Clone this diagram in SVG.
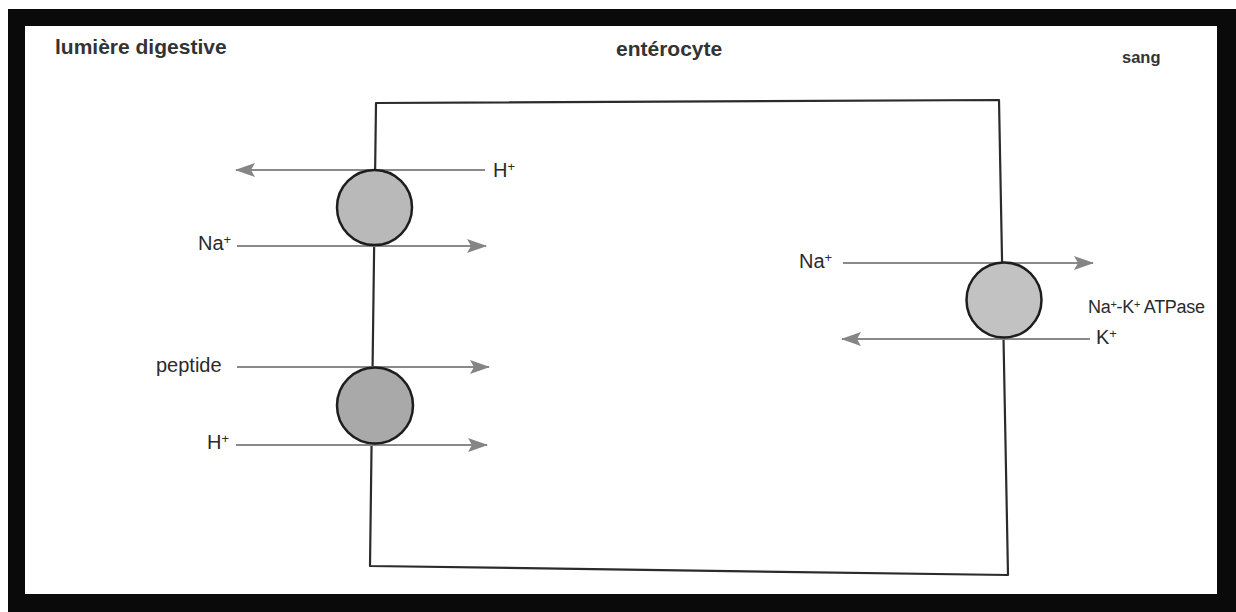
<svg xmlns="http://www.w3.org/2000/svg" width="1236" height="612" viewBox="0 0 1236 612">
  <style>
    .lbl { font-family: "Liberation Sans", Arial, sans-serif; font-size: 20px; fill: #2a2a2a; }
    .title { font-family: "Liberation Sans", Arial, sans-serif; font-size: 21px; font-weight: bold; fill: #333; }
    .sup { font-size: 13px; }
    .small { font-size: 18px; letter-spacing: -0.3px; }
    .small .sup { font-size: 11px; }
    .membrane { fill: none; stroke: #2b2b2b; stroke-width: 2.2; stroke-linejoin: round; }
    .flux { stroke: #8a8a8a; stroke-width: 2; fill: none; marker-end: url(#head); }
    .carrier { stroke: #1e1e1e; stroke-width: 2.5; }
  </style>
  <defs>
    <marker id="head" viewBox="0 0 20 14" refX="19" refY="7" markerWidth="20" markerHeight="14" markerUnits="userSpaceOnUse" orient="auto">
      <path d="M0,0 L20,7 L0,14 L4,7 Z" fill="#858585"/>
    </marker>
  </defs>

  <!-- page and thick frame -->
  <rect x="0" y="0" width="1236" height="612" fill="#ffffff"/>
  <rect x="8" y="9" width="1228" height="603" fill="#0a0a0a"/>
  <rect x="25" y="26" width="1192" height="568" fill="#ffffff"/>

  <!-- compartment titles -->
  <text class="title" x="55" y="54">lumière digestive</text>
  <text class="title" x="616" y="56">entérocyte</text>
  <text class="title" x="1122" y="63" style="font-size:16.5px">sang</text>

  <!-- cell outline -->
  <g id="enterocyte">
    <path class="membrane" d="M376,103 L999,100 L1008,575 L370,566 Z"/>
  </g>

  <!-- transport fluxes -->
  <g id="connectors">
    <line class="flux" x1="485" y1="170" x2="236" y2="170"/>
    <line class="flux" x1="237" y1="246" x2="486" y2="246"/>
    <line class="flux" x1="237" y1="367" x2="489" y2="367"/>
    <line class="flux" x1="236" y1="445" x2="487" y2="445"/>
    <line class="flux" x1="843" y1="263" x2="1093" y2="263"/>
    <line class="flux" x1="1090" y1="339" x2="842" y2="339"/>
  </g>

  <!-- Na+/H+ exchanger -->
  <g id="exchanger">
    <circle class="carrier" cx="374.5" cy="207.5" r="37.5" fill="#b9b9b9"/>
    <text class="lbl" x="493" y="177">H<tspan class="sup" dy="-6">+</tspan></text>
    <text class="lbl" x="198" y="250">Na<tspan class="sup" dy="-6">+</tspan></text>
  </g>

  <!-- peptide/H+ cotransporter -->
  <g id="cotransporter">
    <circle class="carrier" cx="375" cy="405.5" r="38" fill="#a9a9a9"/>
    <text class="lbl" x="156" y="372">peptide</text>
    <text class="lbl" x="207" y="449">H<tspan class="sup" dy="-6">+</tspan></text>
  </g>

  <!-- basolateral pump -->
  <g id="pump">
    <circle class="carrier" cx="1004" cy="300" r="37.5" fill="#c2c2c2"/>
    <text class="lbl" x="799" y="268">Na<tspan class="sup" dy="-6">+</tspan></text>
    <text class="lbl" x="1096" y="344">K<tspan class="sup" dy="-6">+</tspan></text>
    <text class="lbl small" x="1088" y="313">Na<tspan class="sup" dy="-5">+</tspan><tspan dy="5">-K</tspan><tspan class="sup" dy="-5">+</tspan><tspan dy="5"> ATPase</tspan></text>
  </g>
</svg>
